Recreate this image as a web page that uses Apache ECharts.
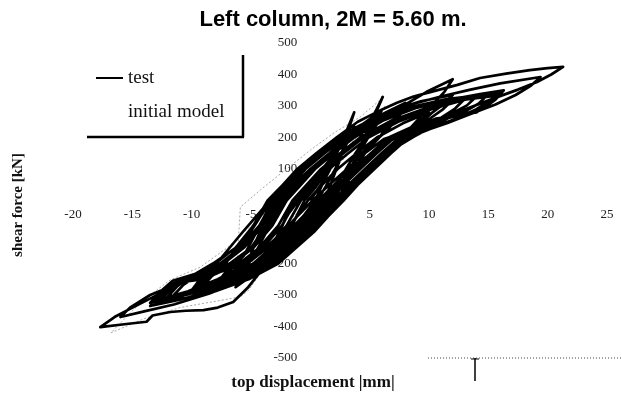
<!DOCTYPE html>
<html>
<head>
<meta charset="utf-8">
<script src="https://cdn.jsdelivr.net/npm/echarts@6/dist/echarts.min.js"></script>
<style>
html,body{margin:0;padding:0;background:#fff;}
#chart{width:622px;height:395px;}
</style>
</head>
<body>
<div id="chart"></div>
<script>
// ---- tick labels ----
var xTicks = [-20, -15, -10, -5, 0, 5, 10, 15, 20, 25];
var yTicks = [-500, -400, -300, -200, -100, 0, 100, 200, 300, 400, 500];

// ---- test: top displacement [mm], shear force [kN], cycle by cycle ----
var testCycle1 = [[0,0],[0.8,45],[1.5,90],[2,125],[1.6,95],[1,50],[0.4,0],[-0.6,-50],[-1.4,-90],[-2,-115]];
var testCycle2 = [[-1.6,-85],[-1.1,-45],[-0.5,0],[0.4,40],[1.5,100],[2.5,170],[3.1,225],[3.7,280],[3.3,235],[2.8,170],[2.4,120],[1.8,60],[1.2,0],[0,-50],[-1.3,-100],[-2.5,-150],[-3.3,-190],[-4,-220]];
var testCycle3 = [[-3.5,-185],[-2.8,-125],[-2.2,-65],[-1.4,0],[-0.4,45],[1,100],[2.3,160],[3.2,205],[3.7,235],[3.3,200],[2.7,150],[2.1,100],[1.3,45],[0.6,0],[-0.6,-50],[-1.9,-100],[-3,-150],[-4,-205]];
var testCycle4 = [[-3.4,-160],[-2.7,-105],[-1.9,-45],[-1,0],[0.2,50],[1.4,100],[3,160],[4.2,200],[5.2,260],[6.1,329],[5.6,285],[4.9,230],[4.3,180],[3.5,110],[2.7,50],[1.9,0],[0.6,-50],[-0.6,-100],[-2.2,-160],[-3.6,-200],[-5,-240],[-6.3,-275]];
var testCycle5 = [[-5.7,-240],[-5.2,-195],[-4.8,-150],[-3.7,-70],[-2.6,0],[-1.4,50],[0,100],[1.6,150],[3.1,200],[4.5,245],[6,285],[5.4,245],[4.7,200],[3.8,150],[2.7,80],[1.4,0],[0.4,-45],[-1,-100],[-2.6,-150],[-4.1,-200],[-5,-225],[-6,-255]];
var testCycle6 = [[-5.4,-215],[-4.9,-180],[-4.4,-150],[-3.3,-70],[-2.1,0],[-0.9,50],[0.4,100],[2,150],[3.6,200],[4.8,235],[6,265],[5.4,230],[4.8,195],[4,145],[3.2,75],[2.3,0],[1.1,-50],[-0.2,-100],[-1.6,-150],[-3.2,-200],[-4.6,-225],[-6,-245]];
var testCycle7 = [[-5.4,-205],[-5,-170],[-4.6,-130],[-4,-80],[-3,0],[-1.8,50],[-0.6,100],[1,150],[2.7,200],[4.8,250],[6.4,280],[8,310],[7.3,270],[6.5,235],[5.8,200],[4.6,150],[3.4,80],[2.6,0],[1.3,-50],[0.1,-100],[-1.5,-150],[-2.9,-200],[-4.5,-235],[-6.2,-262],[-8,-285]];
var testCycle8 = [[-7.3,-250],[-6.6,-215],[-5.6,-175],[-4.4,-90],[-3.2,0],[-2,50],[-0.8,100],[0.8,150],[2.5,200],[4.6,245],[6.4,275],[8,295],[7.3,260],[6.6,228],[5.8,200],[4.3,150],[3,80],[1.7,0],[0.4,-50],[-0.8,-100],[-2.3,-150],[-3.8,-200],[-5.6,-235],[-8,-270]];
var testCycle9 = [[-7.3,-235],[-6.5,-200],[-5,-150],[-3.7,-80],[-2.4,0],[-1.2,50],[0,100],[1.6,150],[3.3,200],[5.5,250],[7.8,300],[9.8,345],[12,385],[11.3,345],[10.3,305],[9.4,270],[7.7,200],[6.2,150],[4.8,100],[3.4,50],[2.2,0],[0.9,-50],[-0.3,-100],[-1.8,-150],[-3.3,-200],[-5.3,-240],[-7.3,-270],[-10,-310]];
var testCycle10 = [[-9.3,-275],[-8.5,-240],[-8,-200],[-6.3,-150],[-4.7,-80],[-3.5,0],[-2.3,50],[-1.1,100],[0.5,150],[2.2,200],[4.5,245],[6.8,285],[9.3,315],[12,335],[11.2,305],[10.3,280],[8,200],[6.5,150],[5.1,100],[3.7,50],[2.5,0],[1.2,-50],[0,-100],[-1.5,-150],[-3,-200],[-5,-238],[-7.3,-268],[-10,-295]];
var testCycle11 = [[-9.3,-262],[-8.5,-230],[-7.3,-200],[-5.6,-150],[-4,-80],[-2.8,0],[-1.6,50],[-0.4,100],[1.2,150],[2.9,200],[5.2,245],[7.5,280],[10,305],[12,320],[11.2,290],[10,258],[6.6,200],[5.1,150],[3.7,100],[2.3,50],[1.1,0],[-0.2,-50],[-1.4,-100],[-2.9,-150],[-4.4,-200],[-6.4,-238],[-8.4,-265],[-10,-285]];
var testCycle12 = [[-9.3,-250],[-8.5,-222],[-6.5,-200],[-4.8,-150],[-3.2,-80],[-2,0],[-0.8,50],[0.4,100],[2,150],[3.7,200],[6.2,255],[9,295],[12,322],[14.3,338],[16.3,350],[15.6,320],[14.5,290],[11.4,260],[7.9,200],[6.4,150],[5,100],[3.6,50],[2.4,0],[1.1,-50],[-0.1,-100],[-1.6,-150],[-3.1,-200],[-5.6,-250],[-8.2,-285],[-11,-315],[-13.5,-335]];
var testCycle13 = [[-12.8,-302],[-12,-270],[-10.6,-250],[-7.6,-200],[-5.9,-150],[-4.3,-80],[-3.1,0],[-1.9,50],[-0.7,100],[0.9,150],[2.6,200],[5.3,255],[8.3,295],[11.5,322],[16,342],[15.2,312],[14,280],[10.6,260],[7.1,200],[5.6,150],[4.2,100],[2.8,50],[1.6,0],[0.3,-50],[-0.9,-100],[-2.4,-150],[-3.9,-200],[-6.4,-250],[-9,-285],[-13,-325]];
var testCycle14 = [[-12.3,-292],[-11.4,-262],[-9,-250],[-6,-200],[-4.3,-150],[-2.7,-80],[-1.5,0],[-0.3,50],[0.9,100],[2.5,150],[4.2,200],[6.9,255],[9.9,295],[13,320],[15.5,332],[14.8,302],[13.3,272],[11.2,245],[8.5,215],[6.2,185],[4.8,140],[3.3,100],[2,50],[0.7,0],[-0.6,-50],[-1.8,-100],[-3.3,-150],[-4.8,-200],[-7.3,-250],[-10,-290],[-13,-318]];
var testCycle15 = [[-12.3,-290],[-11.3,-262],[-9.8,-250],[-6.8,-200],[-5,-150],[-3.5,-80],[-2.3,0],[-1.1,50],[0.1,100],[1.7,150],[3.4,200],[6,255],[9,295],[12,320],[14,330],[13.2,302],[12,278],[10.3,250],[7.5,200],[6,150],[4.6,100],[3.2,50],[2,0],[0.7,-50],[-0.5,-100],[-2,-150],[-3.5,-200],[-6,-250],[-8.6,-282],[-12,-305]];
var testCycle16 = [[-11.2,-272],[-10.2,-245],[-8.3,-235],[-5.3,-200],[-3.6,-150],[-2,-80],[-0.8,0],[0.4,50],[1.6,100],[3.2,150],[4.9,200],[7.4,250],[10.2,290],[12.8,318],[15,338],[14.2,308],[12.9,280],[10.8,250],[8.2,220],[6.2,195],[4.6,150],[3.1,100],[1.6,50],[0.2,0],[-1.1,-50],[-2.3,-100],[-3.8,-150],[-5.3,-200],[-7.8,-250],[-10.3,-288],[-12.5,-312]];
var testCycle17 = [[-11.7,-280],[-10.8,-255],[-9.6,-245],[-7.4,-200],[-5.7,-150],[-4.1,-80],[-2.9,0],[-1.7,50],[-0.5,100],[1.1,150],[2.8,200],[5.5,255],[8.5,292],[11,312],[13,322],[12.2,292],[11,262],[9.6,240],[6.8,200],[5.3,150],[3.9,100],[2.5,50],[1.3,0],[0,-50],[-1.2,-100],[-2.7,-150],[-4.2,-200],[-6.7,-250],[-9.2,-285],[-11.5,-300]];
var testCycle18 = [[-10.7,-268],[-9.8,-245],[-7.3,-220],[-5.7,-200],[-4,-150],[-2.4,-80],[-1.2,0],[0,50],[1.2,100],[2.8,150],[4.5,200],[7.2,255],[10.2,298],[13.2,328],[16,345],[15.2,318],[14,290],[12.4,262],[8.3,200],[6.8,150],[5.4,100],[4,50],[2.8,0],[1.5,-50],[0.3,-100],[-1.2,-150],[-2.7,-200],[-5.2,-250],[-8,-288],[-10.5,-310],[-13.5,-325]];
var testCycle19 = [[-12.6,-288],[-11.6,-255],[-9.6,-232],[-5,-190],[-2.6,-120],[-1.2,-55],[-0.2,0],[1,50],[2.3,100],[3.9,150],[5.6,200],[7.8,245],[10,280],[9.2,250],[8.1,222],[6.6,185],[5,140],[3.6,95],[2.2,45],[0.9,0],[-0.4,-50],[-1.6,-100],[-3.1,-150],[-4.6,-200],[-6.8,-240],[-9,-270]];
var testCycle20 = [[-8.3,-240],[-7.4,-215],[-6.6,-170],[-5.2,-110],[-4.2,-50],[-3.3,0],[-2.1,50],[-0.9,100],[0.7,150],[2.4,200],[5,255],[8,300],[11,330],[13.5,352],[16,372],[19.4,392],[18.6,365],[17.3,335],[15.6,305],[13.5,275],[11.5,245],[8,200],[6.5,150],[5.1,100],[3.7,50],[2.5,0],[1.2,-50],[0,-100],[-1.5,-150],[-3,-200],[-5.5,-250],[-8.5,-295],[-11.5,-330],[-14,-352],[-16,-370]];
var testCycle21 = [[-15.2,-340],[-13.5,-300],[-11,-262],[-8.2,-200],[-6.3,-150],[-4.8,-80],[-3.6,0],[-2.3,50],[-1.1,100],[0.5,150],[2.2,200],[4,250],[6.1,290],[7.3,310],[8.7,330],[10.1,344],[12.4,367],[14.3,389],[16.5,403],[18.5,414],[20,420],[21.3,424],[20.3,400],[19.1,376],[17.5,352],[15.8,329],[12.9,287],[10.8,245],[8.7,202],[7.3,170],[5.9,138],[4.6,98],[3.4,56],[1.8,-20],[0.25,-94],[-1,-125],[-2.8,-157],[-3.6,-198],[-4.5,-240],[-5.3,-278],[-6.5,-322],[-7.8,-340],[-9,-348],[-10.5,-350],[-11.8,-354],[-13.3,-365],[-13.8,-385],[-15.5,-392],[-17.7,-402]];
var testCycle22 = [[-16.5,-370],[-15.4,-348],[-12.6,-294],[-9.9,-243],[-7.9,-200],[-5.7,-100],[-3.4,0],[-1,100],[1.5,160]];

// ---- initial model ----
var modelPath = [[0,0],[1.5,95],[3,165],[4.5,225],[6.3,300],[5.6,262],[4.4,205],[3,140],[1.5,75],[0,10],[-1.5,-55],[-3,-120],[-4.5,-180],[-5.9,-230],[-6.3,-250],[-6.1,-150],[-5.9,-21],[-4,40],[-2,100],[0,160],[2,215],[4.2,265],[5.3,300],[6.2,330],[5.5,290],[4.3,225],[2.8,150],[1.2,70],[-0.5,-10],[-2,-90],[-3.2,-170],[-4.2,-230],[-5.2,-285],[-5.9,-306],[-8,-320],[-11,-340],[-14,-375],[-16.8,-420],[-15,-350],[-13.5,-300],[-11.8,-252],[-9.3,-212],[-7,-150],[-5,-80],[-3,-10]];

var testData = [].concat(testCycle1, testCycle2, testCycle3, testCycle4, testCycle5, testCycle6,
  testCycle7, testCycle8, testCycle9, testCycle10, testCycle11, testCycle12, testCycle13,
  testCycle14, testCycle15, testCycle16, testCycle17, testCycle18, testCycle19, testCycle20,
  testCycle21, testCycle22);

var serif = '"Liberation Serif", "Times New Roman", serif';
var sans = '"Liberation Sans", Arial, sans-serif';

var chart = echarts.init(document.getElementById('chart'), null, {renderer: 'canvas'});
function labelFmt(v) { return v === 0 ? '' : String(v); }
var option = {
  animation: false,
  backgroundColor: '#ffffff',
  grid: {left: 73, right: 15, top: 43, bottom: 37, containLabel: false},
  xAxis: {
    type: 'value',
    min: xTicks[0], max: xTicks[xTicks.length - 1], interval: 5,
    offset: 0,
    axisLine: {show: false, onZero: false},
    axisTick: {show: false},
    splitLine: {show: false},
    axisLabel: {margin: 8, color: '#222', fontFamily: serif, fontSize: 13, formatter: labelFmt}
  },
  yAxis: {
    type: 'value',
    min: yTicks[0], max: yTicks[yTicks.length - 1], interval: 100,
    offset: 0,
    axisLine: {show: false, onZero: false},
    axisTick: {show: false},
    splitLine: {show: false},
    axisLabel: {margin: 13, color: '#222', fontFamily: serif, fontSize: 13, formatter: labelFmt}
  },
  legend: {
    left: 91, top: 62,
    orient: 'vertical',
    itemWidth: 27, itemHeight: 2, itemGap: 12,
    textStyle: {fontFamily: serif, fontSize: 19, color: '#111', lineHeight: 22},
    data: [
      {name: 'test', icon: 'rect', itemStyle: {color: '#000'}},
      {name: 'initial model', icon: 'rect', itemStyle: {color: 'rgba(0,0,0,0)'}}
    ]
  },
  series: [
    {
      name: 'initial model', type: 'line', data: modelPath, showSymbol: false, z: 2,
      lineStyle: {color: '#a8a8a8', width: 1, type: [2, 2]},
      itemStyle: {color: '#a8a8a8'}
    },
    {
      name: 'test', type: 'line', data: testData, showSymbol: false, z: 3,
      lineStyle: {color: '#000', width: 2.7, join: 'round'},
      itemStyle: {color: '#000'}
    }
  ],
  graphic: [
    {type: 'text', style: {text: 'Left column, 2M = 5.60 m.', x: 333, y: 20, textAlign: 'center', textVerticalAlign: 'middle', font: 'bold 22px ' + sans, fill: '#000'}},
    {type: 'text', style: {text: 'shear force [kN]', textAlign: 'center', textVerticalAlign: 'middle', font: 'bold 15px ' + serif, fill: '#111'}, x: 18, y: 205, rotation: Math.PI / 2},
    {type: 'text', style: {text: 'top displacement |mm|', x: 313, y: 383, textAlign: 'center', textVerticalAlign: 'middle', font: 'bold 17px ' + serif, fill: '#111'}},
    {type: 'line', shape: {x1: 243, y1: 55, x2: 243, y2: 137}, style: {stroke: '#000', lineWidth: 2.5}},
    {type: 'line', shape: {x1: 87, y1: 137, x2: 244, y2: 137}, style: {stroke: '#000', lineWidth: 2.5}},
    {type: 'line', shape: {x1: 428, y1: 358, x2: 622, y2: 358}, style: {stroke: '#444', lineWidth: 1, lineDash: [1, 2]}},
    {type: 'line', shape: {x1: 475, y1: 358, x2: 475, y2: 381}, style: {stroke: '#000', lineWidth: 1.5}},
    {type: 'line', shape: {x1: 471, y1: 359, x2: 479, y2: 359}, style: {stroke: '#000', lineWidth: 1}}
  ]
};
chart.setOption(option);
// move the tick labels onto the zero lines, as in the reference (axes cross at the origin)
var origin = chart.convertToPixel({gridIndex: 0}, [0, 0]);
var gridBottom = 395 - 37, gridLeft = 73;
chart.setOption({
  xAxis: {offset: -(gridBottom - origin[1])},
  yAxis: {offset: -(origin[0] - gridLeft)}
});
</script>
</body>
</html>
